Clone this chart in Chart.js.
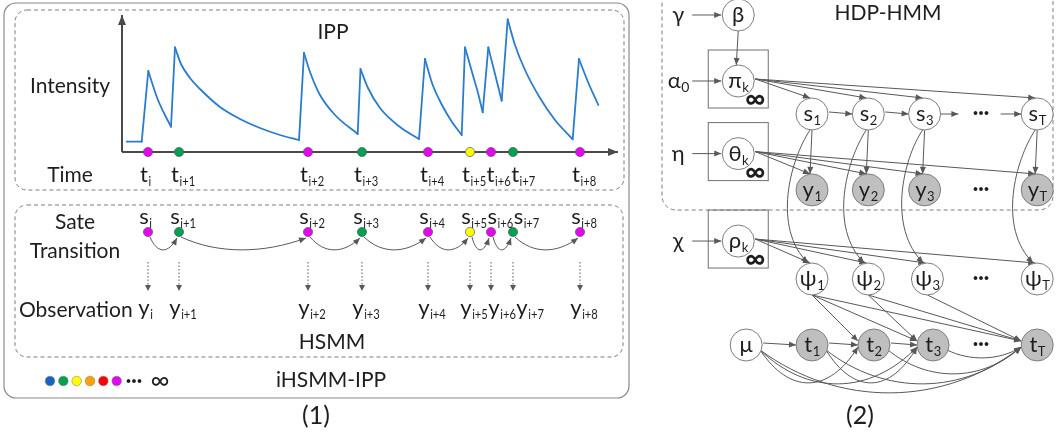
<!DOCTYPE html>
<html>
<head>
<meta charset="utf-8">
<script src="https://cdn.jsdelivr.net/npm/chart.js@4.4.0/dist/chart.umd.min.js"></script>
<style>
  html, body { margin: 0; padding: 0; background: #fff; }
  canvas { display: block; }
</style>
</head>
<body>
<canvas id="fig" width="1058" height="440"></canvas>
<script>
// ---- panel (1): intensity of the point process, one array per burst (peak -> trough)
const burstTimes = [
  [0.47, 1.97],
  [2.63, 2.97, 3.47, 4.13, 4.9],
  [5.3, 5.9, 6.8, 7.8, 9.8, 11.8, 13.8, 15.8, 17.7],
  [18.2, 18.8, 19.8, 21.3, 23.57],
  [23.85, 24.6, 25.8, 27.8, 29.7],
  [30.3, 31.0, 32.0, 33.0, 33.97],
  [34.3, 35.0, 35.6, 36.07],
  [36.63, 37.2, 37.97],
  [38.57, 39.3, 40.3, 41.8, 43.3, 45.07],
  [45.7, 46.6, 47.63],
];
const burstIntensity = [
  [1.03, 1.03],
  [8.1, 7.03, 5.53, 4.03, 2.53],
  [10.47, 8.8, 7.4, 6.3, 4.5, 3.3, 2.4, 1.7, 1.2],
  [9.9, 8.0, 5.7, 3.7, 1.8],
  [8.3, 6.4, 4.4, 2.5, 1.3],
  [9.3, 6.9, 4.7, 3.0, 1.7],
  [10.47, 8.0, 5.9, 3.97],
  [10.47, 8.2, 5.13],
  [13.27, 10.7, 8.2, 5.4, 3.2, 1.27],
  [9.3, 7.0, 4.7],
];

// events on the time axis and their hidden states
const eventTimes = [2.6, 5.7, 18.6, 24.0, 30.6, 34.8, 36.9, 39.1, 45.8];
const eventIndex = ['i', 'i+1', 'i+2', 'i+3', 'i+4', 'i+5', 'i+6', 'i+7', 'i+8'];
const eventState = ['magenta', 'green', 'magenta', 'green', 'magenta', 'yellow', 'magenta', 'green', 'magenta'];
const stateColours = {
  blue: '#1763c2', green: '#00a151', yellow: '#ffff00',
  orange: '#ffa200', red: '#ff0000', magenta: '#e207f0',
};
const legendStates = ['blue', 'green', 'yellow', 'orange', 'red', 'magenta'];

// ---- panel (2): graphical model
const nodeId = ['beta', 'pi', 'theta', 'rho', 's1', 's2', 's3', 'sT', 'y1', 'y2', 'y3', 'yT',
  'psi1', 'psi2', 'psi3', 'psiT', 'mu', 't1', 't2', 't3', 'tT'];
const nodeText = ['β', 'π', 'θ', 'ρ', 's', 's', 's', 's', 'y', 'y', 'y', 'y',
  'ψ', 'ψ', 'ψ', 'ψ', 'μ', 't', 't', 't', 't'];
const nodeSub = ['', 'k', 'k', 'k', '1', '2', '3', 'T', '1', '2', '3', 'T',
  '1', '2', '3', 'T', '', '1', '2', '3', 'T'];
const nodeCol = [-0.31, -0.31, -0.31, -0.31, 1, 2, 3, 5, 1, 2, 3, 5,
  1, 2, 3.05, 5, -0.17, 1, 2.1, 3.15, 5];
const nodeRow = [0, 2, 4.2, 6.85, 3, 3, 3, 3, 5.3, 5.3, 5.3, 5.3,
  8, 8, 8, 8, 10, 10, 10, 10, 10];
const nodeObserved = [0, 0, 0, 0, 0, 0, 0, 0, 1, 1, 1, 1,
  0, 0, 0, 0, 0, 1, 1, 1, 1];

const hyperText = ['γ', 'α', 'η', 'χ'];
const hyperSub = ['', '0', '', ''];
const hyperTarget = ['beta', 'pi', 'theta', 'rho'];
const plates = ['pi', 'theta', 'rho'];
const ellipsisRows = [3, 5.3, 8, 10];

// straight edges: from, to, start side, end side
const graphEdges = [
  ['beta', 'pi', 'b', 't'],
  ['pi', 's1', 'r', 't'], ['pi', 's2', 'r', 't'], ['pi', 's3', 'r', 't'], ['pi', 'sT', 'r', 't'],
  ['theta', 'y1', 'r', 't'], ['theta', 'y2', 'r', 't'], ['theta', 'y3', 'r', 't'], ['theta', 'yT', 'r', 't'],
  ['rho', 'psi1', 'r', 't'], ['rho', 'psi2', 'r', 't'], ['rho', 'psi3', 'r', 't'], ['rho', 'psiT', 'r', 't'],
  ['s1', 's2', 'r', 'l'], ['s2', 's3', 'r', 'l'],
  ['s1', 'y1', 'b', 't'], ['s2', 'y2', 'b', 't'], ['s3', 'y3', 'b', 't'], ['sT', 'yT', 'b', 't'],
  ['psi1', 't2', 'b', 'lu'], ['psi1', 't3', 'b', 'lu'], ['psi1', 'tT', 'b', 'lu'],
  ['psi2', 't3', 'b', 'lu'], ['psi2', 'tT', 'b', 'lu'], ['psi3', 'tT', 'b', 'lu'],
  ['mu', 't1', 'r', 'l'], ['t1', 't2', 'r', 'l'], ['t2', 't3', 'r', 'l'],
];
// state -> duration curves
const durationEdges = [['s1', 'psi1'], ['s2', 'psi2'], ['s3', 'psi3'], ['sT', 'psiT']];
// curved edges below the time row: from, to, depth of the dip (px)
const lowEdges = [
  ['mu', 't2', 37], ['mu', 't3', 38], ['mu', 'tT', 47],
  ['t1', 't3', 37], ['t1', 'tT', 38], ['t2', 'tT', 28], ['t3', 'tT', 12],
];

const FONT = 'Lato, "Open Sans", "DejaVu Sans", sans-serif';
const INK = '#1e1e1e';
const EDGE = '#585858';
const R = 16;

// ---- build datasets
const decayData = [];
const jumpData = [];
burstTimes.forEach((ts, b) => {
  ts.forEach((t, i) => decayData.push({ x: t, y: burstIntensity[b][i] }));
  decayData.push({ x: ts[ts.length - 1], y: null });
  if (b > 0) {
    const pt = burstTimes[b - 1], pv = burstIntensity[b - 1];
    jumpData.push({ x: pt[pt.length - 1], y: pv[pv.length - 1] });
    jumpData.push({ x: ts[0], y: burstIntensity[b][0] });
    jumpData.push({ x: ts[0], y: null });
  }
});

function arrowHead(ctx, x0, y0, x1, y1, len, wid) {
  const a = Math.atan2(y1 - y0, x1 - x0);
  ctx.beginPath();
  ctx.moveTo(x1, y1);
  ctx.lineTo(x1 - len * Math.cos(a) + wid * Math.sin(a), y1 - len * Math.sin(a) - wid * Math.cos(a));
  ctx.lineTo(x1 - len * Math.cos(a) - wid * Math.sin(a), y1 - len * Math.sin(a) + wid * Math.cos(a));
  ctx.closePath();
  ctx.fill();
}

function arrow(ctx, x0, y0, x1, y1, len = 7, wid = 3) {
  ctx.beginPath();
  ctx.moveTo(x0, y0);
  ctx.lineTo(x1, y1);
  ctx.stroke();
  arrowHead(ctx, x0, y0, x1, y1, len, wid);
}

function curveArrow(ctx, p0, c1, c2, p1) {
  ctx.beginPath();
  ctx.moveTo(p0[0], p0[1]);
  ctx.bezierCurveTo(c1[0], c1[1], c2[0], c2[1], p1[0], p1[1]);
  ctx.stroke();
  arrowHead(ctx, c2[0], c2[1], p1[0], p1[1], 7, 3);
}

// main glyph + subscript; mode 'all' centres the group, 'char' centres the main glyph,
// 'left' starts at x. squeeze < 1 narrows the subscript. Returns the right edge.
function subText(ctx, x, y, main, sub, size, mode, subSize, squeeze = 1) {
  ctx.font = size + 'px ' + FONT;
  const mw = ctx.measureText(main).width;
  ctx.font = subSize + 'px ' + FONT;
  const sw = sub ? ctx.measureText(sub).width * squeeze : 0;
  const left = mode === 'all' ? x - (mw + sw) / 2 : mode === 'left' ? x : x - mw / 2;
  ctx.textAlign = 'left';
  ctx.textBaseline = 'alphabetic';
  ctx.font = size + 'px ' + FONT;
  ctx.fillText(main, left, y);
  if (sub) {
    ctx.save();
    ctx.font = subSize + 'px ' + FONT;
    ctx.translate(left + mw + 0.5, y + size * 0.2);
    ctx.scale(squeeze, 1);
    ctx.fillText(sub, 0, 0);
    ctx.restore();
  }
  return left + mw + 0.5 + sw;
}

function text(ctx, s, x, y, size, align = 'center', weight = '') {
  ctx.font = (weight ? weight + ' ' : '') + size + 'px ' + FONT;
  ctx.textAlign = align;
  ctx.textBaseline = 'alphabetic';
  ctx.fillText(s, x, y);
}

// a row of event labels, each pushed right so it never runs into the previous one
function eventLabelRow(ctx, T, y, main) {
  ctx.font = '22px ' + FONT;
  const mw = ctx.measureText(main).width;
  let right = -Infinity;
  eventTimes.forEach((t, k) => {
    const left = Math.max(T(t) - 4 - mw / 2, right + 0.5);
    right = subText(ctx, left, y, main, eventIndex[k], 22, 'left', 14, 0.8);
  });
}

function nodePos(chart, id) {
  const i = nodeId.indexOf(id);
  return [chart.scales.gx.getPixelForValue(nodeCol[i]), chart.scales.gy.getPixelForValue(nodeRow[i])];
}

function anchor(chart, id, side) {
  const [x, y] = nodePos(chart, id);
  if (side === 'r') return [x + R + 1, y - 2];
  if (side === 'l') return [x - R, y];
  if (side === 'lu') return [x - R, y - 4];
  if (side === 't') return [x - 2, y - R];
  return [x, y + R];
}

const diagram = {
  id: 'diagram',
  beforeDatasetsDraw(chart) {
    const ctx = chart.ctx;
    const S = chart.scales;
    const X = (v) => S.px.getPixelForValue(v);
    const Y = (v) => S.py.getPixelForValue(v);
    const T = (v) => S.tx.getPixelForValue(v);
    const I = (v) => S.iy.getPixelForValue(v);
    ctx.save();

    // frames
    ctx.strokeStyle = '#8a8a8a';
    ctx.lineWidth = 1.2;
    ctx.beginPath(); ctx.roundRect(X(4), Y(3), X(629) - X(4), Y(398) - Y(3), 12); ctx.stroke();
    ctx.setLineDash([4, 3]);
    ctx.strokeStyle = '#7c7c7c';
    ctx.lineWidth = 1;
    ctx.beginPath(); ctx.roundRect(X(15), Y(10), X(624) - X(15), Y(190) - Y(10), 12); ctx.stroke();
    ctx.beginPath(); ctx.roundRect(X(15), Y(205), X(623) - X(15), Y(357) - Y(205), 12); ctx.stroke();
    ctx.beginPath(); ctx.roundRect(X(662), Y(-20), X(1053) - X(662), Y(210) - Y(-20), 14); ctx.stroke();
    ctx.setLineDash([]);

    // intensity axes
    ctx.strokeStyle = '#4a4a4a';
    ctx.fillStyle = '#4a4a4a';
    ctx.lineWidth = 2;
    arrow(ctx, T(0), I(0), T(0), I(13.7), 10, 4);
    arrow(ctx, T(0), I(0), T(49.6), I(0), 10, 4);

    // state transitions
    ctx.strokeStyle = EDGE;
    ctx.fillStyle = EDGE;
    ctx.lineWidth = 1;
    for (let k = 0; k < eventTimes.length - 1; k++) {
      const xa = T(eventTimes[k]), xb = T(eventTimes[k + 1]), d = xb - xa;
      curveArrow(ctx, [xa + 2, Y(237)], [xa + 0.3 * d, Y(254)], [xb - 0.35 * d, Y(254)], [xb - 2, Y(238)]);
    }
    // emissions (dotted)
    eventTimes.forEach((t) => {
      const x = T(t);
      ctx.setLineDash([1.5, 2]);
      ctx.beginPath(); ctx.moveTo(x, Y(262)); ctx.lineTo(x, Y(285)); ctx.stroke();
      ctx.setLineDash([]);
      arrowHead(ctx, x, Y(262), x, Y(291), 6, 3);
    });

    // plates
    ctx.strokeStyle = '#707070';
    plates.forEach((id) => {
      const [x, y] = nodePos(chart, id);
      ctx.strokeRect(x - 30, y - 31, 60, 58);
    });
    // graph edges
    ctx.strokeStyle = EDGE;
    ctx.fillStyle = EDGE;
    hyperTarget.forEach((id) => {
      const [x, y] = nodePos(chart, id);
      arrow(ctx, x - 46, y, x - R - 1, y);
    });
    graphEdges.forEach(([a, b, sa, sb]) => {
      const p = anchor(chart, a, sa), q = anchor(chart, b, sb);
      arrow(ctx, p[0], p[1], q[0], q[1]);
    });
    // chain across the ellipsis
    const s3 = nodePos(chart, 's3'), sT = nodePos(chart, 'sT');
    const gapA = S.gx.getPixelForValue(3.6), gapB = S.gx.getPixelForValue(4.35);
    arrow(ctx, s3[0] + R, s3[1], gapA, s3[1]);
    arrow(ctx, gapB, sT[1], sT[0] - R, sT[1]);
    durationEdges.forEach(([a, b]) => {
      const [sx, sy] = nodePos(chart, a), [px, py] = nodePos(chart, b);
      curveArrow(ctx, [sx - 2, sy + R], [sx - 22, sy + R + 30], [px - 40, py - R - 35], [px - 4, py - R]);
    });
    lowEdges.forEach(([a, b, dip]) => {
      const [x0, y0] = nodePos(chart, a), [x1, y1] = nodePos(chart, b);
      const p0 = [x0 + R - 2, y0 + 5], p1 = [x1 - R, y1 + 2], d = p1[0] - p0[0], h = dip / 0.75;
      curveArrow(ctx, p0, [p0[0] + 0.3 * d, y0 + h], [p1[0] - 0.3 * d, y1 + h], p1);
    });
    ctx.restore();
  },
  afterDatasetsDraw(chart) {
    const ctx = chart.ctx;
    const S = chart.scales;
    const X = (v) => S.px.getPixelForValue(v);
    const Y = (v) => S.py.getPixelForValue(v);
    const T = (v) => S.tx.getPixelForValue(v);
    ctx.save();
    ctx.fillStyle = INK;

    // panel (1) text
    text(ctx, 'IPP', X(333), Y(39), 21);
    text(ctx, 'Intensity', X(70), Y(93), 21);
    text(ctx, 'Time', X(70), Y(182), 21);
    text(ctx, 'Sate', X(75), Y(229), 21);
    text(ctx, 'Transition', X(75), Y(258), 21);
    text(ctx, 'Observation', X(19), Y(317), 21, 'left');
    text(ctx, 'HSMM', X(332), Y(349), 21);
    text(ctx, 'iHSMM-IPP', X(331), Y(387), 21);
    text(ctx, '···', X(134), Y(387), 20, 'center', 'bold');
    text(ctx, '∞', X(160), Y(389), 26);
    text(ctx, '(1)', X(316), Y(424), 25);
    eventLabelRow(ctx, T, Y(182), 't');
    eventLabelRow(ctx, T, Y(224), 's');
    eventLabelRow(ctx, T, Y(315), 'y');

    // panel (2) text
    text(ctx, 'HDP-HMM', X(888), Y(20), 21);
    text(ctx, '(2)', X(860), Y(424), 25);
    nodeId.forEach((id, i) => {
      const [x, y] = nodePos(chart, id);
      subText(ctx, x, y + 7, nodeText[i], nodeSub[i], 22, 'all', 13);
    });
    hyperTarget.forEach((id, i) => {
      const [x, y] = nodePos(chart, id);
      subText(ctx, x - 60, y + 7, hyperText[i], hyperSub[i], 22, 'all', 14);
    });
    plates.forEach((id) => {
      const [x, y] = nodePos(chart, id);
      text(ctx, '∞', x + 17, y + 27, 28, 'center', 'bold');
    });
    ellipsisRows.forEach((r) => {
      text(ctx, '···', S.gx.getPixelForValue(4), S.gy.getPixelForValue(r) + 5, 20, 'center', 'bold');
    });
    ctx.restore();
  },
};

const lineStyle = {
  type: 'line', xAxisID: 'tx', yAxisID: 'iy', borderColor: '#2a7ccd', borderWidth: 1.8,
  pointRadius: 0, borderCapStyle: 'round', borderJoinStyle: 'round', spanGaps: false, fill: false,
};

new Chart(document.getElementById('fig'), {
  type: 'scatter',
  data: {
    datasets: [
      { ...lineStyle, data: decayData, cubicInterpolationMode: 'monotone' },
      { ...lineStyle, data: jumpData, tension: 0 },
      {
        xAxisID: 'tx', yAxisID: 'iy',
        data: eventTimes.map((t) => ({ x: t, y: 0 })),
        pointRadius: 4.6, pointBorderWidth: 0.7, pointBorderColor: '#5a5a5a',
        pointBackgroundColor: eventState.map((s) => stateColours[s]),
      },
      {
        xAxisID: 'tx', yAxisID: 'py',
        data: eventTimes.map((t) => ({ x: t, y: 232 })),
        pointRadius: 4.6, pointBorderWidth: 0.7, pointBorderColor: '#5a5a5a',
        pointBackgroundColor: eventState.map((s) => stateColours[s]),
      },
      {
        xAxisID: 'lx', yAxisID: 'py',
        data: legendStates.map((s, i) => ({ x: i, y: 381 })),
        pointRadius: 4.8, pointBorderWidth: 0.5, pointBorderColor: '#777',
        pointBackgroundColor: legendStates.map((s) => stateColours[s]),
      },
      {
        xAxisID: 'gx', yAxisID: 'gy',
        data: nodeId.map((id, i) => ({ x: nodeCol[i], y: nodeRow[i] })),
        pointRadius: R, pointBorderWidth: 1, pointBorderColor: '#7d7d7d',
        pointBackgroundColor: nodeObserved.map((o) => (o ? '#bfbfbf' : '#ffffff')),
      },
    ],
  },
  options: {
    responsive: false,
    animation: false,
    events: [],
    layout: { padding: 0, autoPadding: false },
    plugins: { legend: { display: false }, tooltip: { enabled: false } },
    scales: {
      tx: { axis: 'x', type: 'linear', display: false, min: -12.2, max: 93.6 },
      iy: { axis: 'y', type: 'linear', display: false, min: -28.8, max: 15.2 },
      px: { axis: 'x', type: 'linear', display: false, min: 0, max: 1058 },
      py: { axis: 'y', type: 'linear', display: false, min: 0, max: 440, reverse: true },
      lx: { axis: 'x', type: 'linear', display: false, min: -3.75, max: 75.6 },
      gx: { axis: 'x', type: 'linear', display: false, min: -13.423, max: 5.3694 },
      gy: { axis: 'y', type: 'linear', display: false, min: -0.4545, max: 12.879, reverse: true },
    },
  },
  plugins: [diagram],
});
</script>
</body>
</html>
